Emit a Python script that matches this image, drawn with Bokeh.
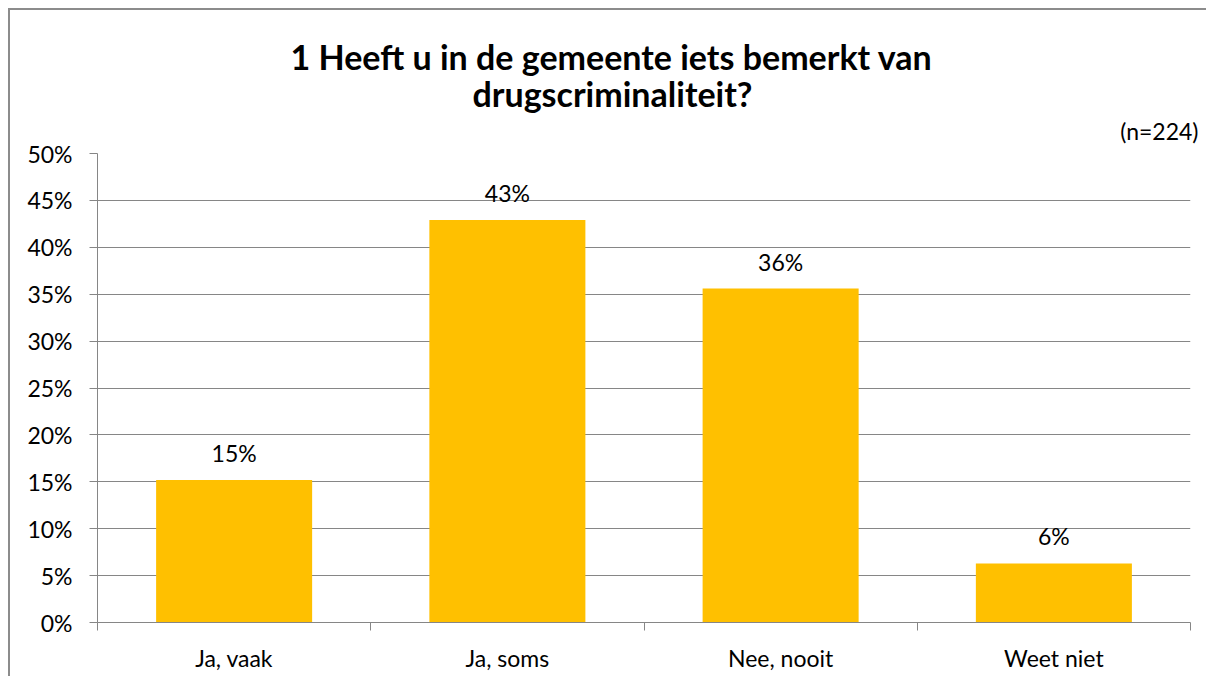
from bokeh.plotting import figure
from bokeh.models import (ColumnDataSource, FixedTicker, NumeralTickFormatter,
                          LabelSet, Title, Range1d)
from bokeh.core.properties import value
from bokeh.embed import file_html
from bokeh.resources import INLINE

categories = ["Ja, vaak", "Ja, soms", "Nee, nooit", "Weet niet"]
values = [0.152, 0.429, 0.356, 0.063]
y_ticks = [0.0, 0.05, 0.10, 0.15, 0.20, 0.25, 0.30, 0.35, 0.40, 0.45, 0.50]
title_lines = ["1 Heeft u in de gemeente iets bemerkt van", "drugscriminaliteit?"]
n_note = "(n=224)"

FONT = "Lato"
GRAY = "#868686"
BAR = "#FFC000"
TXT = "23px"

xs = [i + 0.5 for i in range(len(categories))]
labels = [f"{round(v * 100)}%" for v in values]
src = ColumnDataSource(dict(x=xs, top=values, label=labels))

p = figure(width=1198, height=668, output_backend="svg", toolbar_location=None,
           x_range=Range1d(0, len(categories)), y_range=Range1d(0, 0.5),
           min_border_left=87, min_border_right=18, min_border_top=143,
           min_border_bottom=56, title=None)
p.margin = (8, 0, 0, 8)
p.styles = {"border-left": "2px solid #8c8c8c", "border-top": "2px solid #8c8c8c"}
p.outline_line_color = None
p.background_fill_color = "white"
p.border_fill_color = "white"

p.vbar(x="x", top="top", bottom=0, width=0.571, source=src,
       fill_color=BAR, line_color=None)

# y axis
p.yaxis.ticker = FixedTicker(ticks=y_ticks)
p.yaxis.formatter = NumeralTickFormatter(format="0%")
p.yaxis.axis_line_color = GRAY
p.yaxis.major_tick_line_color = GRAY
p.yaxis.major_tick_out = 8
p.yaxis.major_tick_in = 0
p.yaxis.minor_tick_line_color = None
p.yaxis.major_label_standoff = 17
p.yaxis.major_label_text_font = FONT
p.yaxis.major_label_text_font_size = TXT
p.yaxis.major_label_text_color = "black"

# x axis
p.xaxis.ticker = FixedTicker(ticks=xs, minor_ticks=list(range(len(categories) + 1)))
p.xaxis.major_label_overrides = {x: c for x, c in zip(xs, categories)}
p.xaxis.axis_line_color = GRAY
p.xaxis.major_tick_line_color = None
p.xaxis.major_tick_out = 0
p.xaxis.major_tick_in = 0
p.xaxis.minor_tick_line_color = GRAY
p.xaxis.minor_tick_out = 8
p.xaxis.minor_tick_in = 0
p.xaxis.major_label_standoff = 13
p.xaxis.major_label_text_font = FONT
p.xaxis.major_label_text_font_size = TXT
p.xaxis.major_label_text_color = "black"

p.xgrid.grid_line_color = None
p.ygrid.ticker = FixedTicker(ticks=y_ticks)
p.ygrid.grid_line_color = GRAY
p.ygrid.grid_line_width = 1

p.add_layout(LabelSet(x="x", y="top", text="label", source=src, y_offset=18,
                      text_align="center", text_baseline="alphabetic",
                      text_font=value(FONT), text_font_size=value(TXT),
                      text_color="black"))

# titles: first added sits closest to the plot frame
p.add_layout(Title(text=n_note, align="right", offset=-8, text_font=FONT,
                   text_font_style="normal", text_font_size=TXT,
                   text_color="black", standoff=17), "above")
p.add_layout(Title(text=title_lines[1], align="left", offset=375, text_font=FONT,
                   text_font_style="bold", text_font_size="34px",
                   text_color="black", standoff=-14), "above")
p.add_layout(Title(text=title_lines[0], align="left", offset=193, text_font=FONT,
                   text_font_style="bold", text_font_size="34px",
                   text_color="black", standoff=2), "above")

open("out.html", "w").write(file_html(p, INLINE))
